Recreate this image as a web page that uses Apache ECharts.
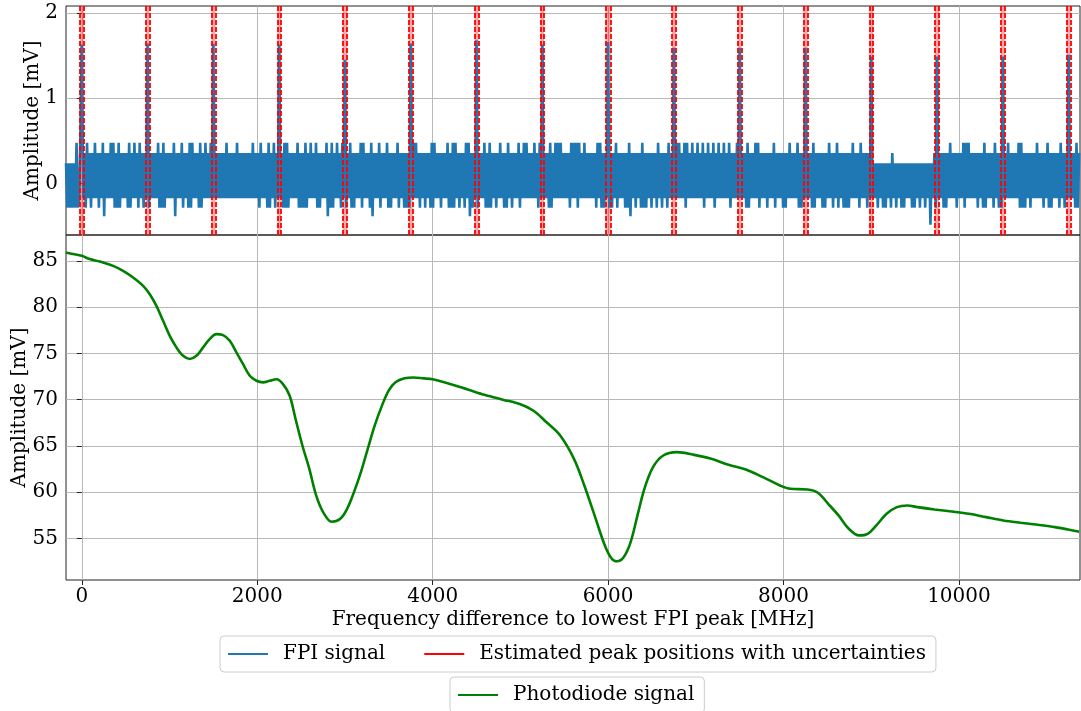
<!DOCTYPE html>
<html>
<head>
<meta charset="utf-8">
<script src="https://cdn.jsdelivr.net/npm/echarts@6/dist/echarts.min.js"></script>
<style>
html, body { margin: 0; padding: 0; background: #ffffff; }
#chart { width: 1081px; height: 711px; }
</style>
</head>
<body>
<div id="chart"></div>
<script>
// ---- FPI trace: sampled on a regular frequency grid (MHz) ----
const fpiStart = -180;
const fpiStep = 15;
// quantised oscilloscope levels (mV), indexed by the digit codes below
const fpiLevels = [-0.48, -0.38, -0.28, -0.17, -0.06, 0.06, 0.24, 0.36, 0.48, 0.64];
// one row per free spectral range (50 samples); 'P' is the transmission peak sample
const fpiRows = [
  "6262626282 39P3728372 7383727381 7373838272 8273737282",
  "7383728372 73P2737373 8272827373 7381737382 7372828373",
  "7282738373 83P3737373 7383737373 8373737373 7383737283",
  "7372827382 73P3728282 7373738272 7282738373 8272737381",
  "7282738372 83P2738272 7373828373 7281737382 7373827273",
  "7382737272 72P3838372 7372737282 8373727373 8272828372",
  "7372838172 73P2737382 7282737273 8372728372 7373827383",
  "8373738372 83P3737282 7383838373 7372838382 8373837373",
  "7372838272 73P2727382 7373727281 7372737282 7273727372",
  "8372737283 73P3838373 8283738373 8373827383 7382738373",
  "8373827373 83P3737282 7373838273 7372737382 7373727273",
  "8373738272 73P3737282 7373727273 8372738273 7272727383",
  "7372837372 73P3636263 6262636273 6263626263 6362626362",
  "6362636063 72P3737272 7383737273 7382838373 7372737282",
  "7373728372 72P3738373 7373828272 7372737383 7372738272",
  "7373728372 73P3737282 7"
];
// FPI peak maxima (mV), one per row
const peakHeights = [1.63, 1.64, 1.64, 1.63, 1.45, 1.64, 1.68, 1.63, 1.66, 1.59, 1.59, 1.59, 1.49, 1.49, 1.49, 1.51];

// ---- fitted peak positions and their uncertainties (MHz) ----
const peakPositions = [0, 750, 1500, 2250, 3000, 3750, 4500, 5250, 6000, 6750, 7500, 8250, 9000, 9750, 10500, 11250];
const peakErrors = [22, 20, 22, 20, 25, 22, 22, 20, 30, 22, 22, 25, 22, 25, 22, 22];

// ---- photodiode trace ----
const photoFreq = [-180, -100, 0, 90, 205, 357, 471, 585, 699, 775, 851, 927, 1003, 1079, 1155, 1231, 1307, 1383,
  1458, 1535, 1611, 1687, 1763, 1839, 1915, 1991, 2066, 2142, 2218, 2294, 2370, 2437, 2515, 2594, 2672, 2751,
  2849, 2947, 3025, 3103, 3182, 3260, 3339, 3420, 3500, 3580, 3680, 3780, 3900, 4000, 4200, 4400, 4600, 4800,
  5000, 5150, 5298, 5454, 5611, 5729, 5846, 5963, 6042, 6101, 6179, 6257, 6335, 6414, 6512, 6629, 6786, 6982,
  7177, 7373, 7569, 7765, 7960, 8078, 8274, 8392, 8509, 8627, 8744, 8862, 8960, 9058, 9175, 9292, 9410, 9527,
  9723, 9919, 10115, 10310, 10506, 10702, 10898, 11094, 11329, 11370];
const photoAmp = [85.9, 85.75, 85.55, 85.2, 84.93, 84.46, 83.92, 83.2, 82.3, 81.4, 80.14, 78.52, 76.9, 75.65, 74.74, 74.4, 74.74, 75.65,
  76.54, 77.08, 76.98, 76.36, 75.1, 73.84, 72.58, 72.04, 71.87, 72.04, 72.2, 71.68, 70.42, 67.91, 65.04, 62.52, 59.64, 57.84,
  56.8, 57.12, 58.2, 60.0, 62.16, 64.68, 67.19, 69.3, 71.0, 71.9, 72.3, 72.4, 72.3, 72.2, 71.7, 71.1, 70.5, 70.0,
  69.5, 68.8, 67.55, 66.12, 63.6, 60.72, 57.48, 54.24, 52.8, 52.52, 52.99, 54.6, 57.48, 60.36, 62.7, 63.96, 64.32, 64.03,
  63.6, 62.95, 62.45, 61.62, 60.72, 60.36, 60.29, 59.93, 58.74, 57.48, 56.04, 55.32, 55.5, 56.4, 57.66, 58.38, 58.56, 58.38,
  58.13, 57.91, 57.66, 57.3, 56.94, 56.69, 56.47, 56.22, 55.8, 55.72];

// ---- axis ticks ----
const xTicks = [0, 2000, 4000, 6000, 8000, 10000];
const topTicks = [0, 1, 2];
const bottomTicks = [55, 60, 65, 70, 75, 80, 85];

// decode the FPI rows into [frequency, amplitude] pairs
const fpiData = [];
let sampleIdx = 0;
let peakIdx = 0;
fpiRows.forEach(function (row) {
  row.replace(/\s+/g, '').split('').forEach(function (c) {
    const v = c === 'P' ? peakHeights[peakIdx++] : fpiLevels[+c];
    fpiData.push([fpiStart + fpiStep * sampleIdx, v]);
    sampleIdx++;
  });
});

const photoData = photoFreq.map(function (f, i) { return [f, photoAmp[i]]; });

const markLines = [];
const markAreas = [];
peakPositions.forEach(function (p, i) {
  const e = peakErrors[i];
  markLines.push({ xAxis: p - e }, { xAxis: p + e });
  markAreas.push([{ xAxis: p - e }, { xAxis: p + e }]);
});

const FONT = 'DejaVu Serif';
const FS = 20;
const XMIN = -180, XMAX = 11380;
const gridColor = '#b8b8b8';
const spineColor = '#222222';
const plain = function (v) { return String(v); };

const chart = echarts.init(document.getElementById('chart'), null, { renderer: 'canvas' });
chart.setOption({
  animation: false,
  backgroundColor: '#ffffff',
  grid: [
    { left: 66, right: 1, top: 6, height: 229, show: true, borderColor: spineColor, borderWidth: 1,
      backgroundColor: 'transparent', containLabel: false, outerBoundsMode: 'none' },
    { left: 66, right: 1, top: 235, height: 345, show: true, borderColor: spineColor, borderWidth: 1,
      backgroundColor: 'transparent', containLabel: false, outerBoundsMode: 'none' }
  ],
  xAxis: [
    {
      type: 'value', gridIndex: 0, min: XMIN, max: XMAX,
      axisLine: { show: false },
      axisTick: { show: true, inside: false, length: 5, customValues: xTicks, lineStyle: { color: spineColor } },
      axisLabel: { show: false, customValues: xTicks },
      splitLine: { show: true, lineStyle: { color: gridColor, width: 1 } }
    },
    {
      type: 'value', gridIndex: 1, min: XMIN, max: XMAX,
      name: 'Frequency difference to lowest FPI peak [MHz]',
      nameLocation: 'middle', nameGap: 30,
      nameTextStyle: { fontFamily: FONT, fontSize: FS, color: '#000' },
      axisLine: { show: false },
      axisTick: { show: true, inside: false, length: 5, customValues: xTicks, lineStyle: { color: spineColor } },
      axisLabel: { customValues: xTicks, margin: 7, formatter: plain, fontFamily: FONT, fontSize: FS, color: '#000' },
      splitLine: { show: true, lineStyle: { color: gridColor, width: 1 } }
    }
  ],
  yAxis: [
    {
      type: 'value', gridIndex: 0, min: -0.6, max: 2.08,
      name: 'Amplitude [mV]', nameLocation: 'middle', nameGap: 23, nameMoveOverlap: false,
      nameTextStyle: { fontFamily: FONT, fontSize: FS, color: '#000' },
      axisLine: { show: false },
      axisTick: { show: true, inside: false, length: 5, customValues: topTicks, lineStyle: { color: spineColor } },
      axisLabel: { customValues: topTicks, margin: 8, formatter: plain, fontFamily: FONT, fontSize: FS, color: '#000' },
      splitLine: { show: true, lineStyle: { color: gridColor, width: 1 } }
    },
    {
      type: 'value', gridIndex: 1, min: 50.5, max: 87.8,
      name: 'Amplitude [mV]', nameLocation: 'middle', nameGap: 36, nameMoveOverlap: false,
      nameTextStyle: { fontFamily: FONT, fontSize: FS, color: '#000' },
      axisLine: { show: false },
      axisTick: { show: true, inside: false, length: 5, customValues: bottomTicks, lineStyle: { color: spineColor } },
      axisLabel: { customValues: bottomTicks, margin: 8, formatter: plain, fontFamily: FONT, fontSize: FS, color: '#000' },
      splitLine: { show: true, lineStyle: { color: gridColor, width: 1 } }
    }
  ],
  legend: [
    {
      data: ['FPI signal', 'Estimated peak positions with uncertainties'],
      left: 220, top: 636,
      icon: 'rect', itemWidth: 40, itemHeight: 2, itemGap: 39,
      padding: [8, 10, 8, 8],
      borderColor: '#cccccc', borderWidth: 1, borderRadius: 4,
      textStyle: { fontFamily: FONT, fontSize: FS, color: '#000', padding: [0, 0, 0, 10] }
    },
    {
      data: ['Photodiode signal'],
      left: 450, top: 677,
      icon: 'rect', itemWidth: 40, itemHeight: 2,
      padding: [8, 10, 8, 8],
      borderColor: '#cccccc', borderWidth: 1, borderRadius: 4,
      textStyle: { fontFamily: FONT, fontSize: FS, color: '#000', padding: [0, 0, 0, 10] }
    }
  ],
  series: [
    {
      name: 'FPI signal', type: 'line', xAxisIndex: 0, yAxisIndex: 0,
      data: fpiData, showSymbol: false, symbol: 'none', z: 2,
      itemStyle: { color: '#1f77b4' },
      lineStyle: { color: '#1f77b4', width: 2.6, join: 'bevel' }
    },
    {
      name: 'Estimated peak positions with uncertainties', type: 'line', xAxisIndex: 0, yAxisIndex: 0,
      data: [], showSymbol: false, symbol: 'none', z: 4,
      itemStyle: { color: '#ff0000' },
      lineStyle: { color: '#ff0000', width: 1.5 },
      markArea: { silent: true, itemStyle: { color: 'rgba(255,0,0,0.35)' }, data: markAreas },
      markLine: {
        silent: true, symbol: ['none', 'none'], label: { show: false },
        lineStyle: { color: 'rgba(255,0,0,0.9)', type: [5, 2], width: 2 },
        data: markLines
      }
    },
    {
      name: 'Photodiode signal', type: 'line', xAxisIndex: 1, yAxisIndex: 1,
      data: photoData, showSymbol: false, symbol: 'none', smooth: 0.35, z: 2,
      itemStyle: { color: '#008000' },
      lineStyle: { color: '#008000', width: 2.6 }
    }
  ]
});
</script>
</body>
</html>
